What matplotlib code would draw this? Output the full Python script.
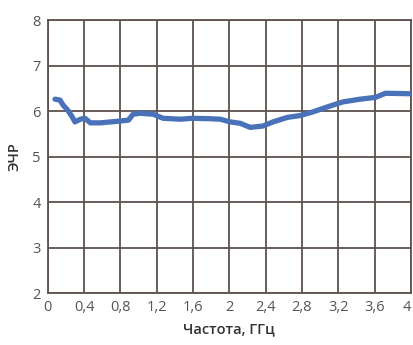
import matplotlib
matplotlib.use("Agg")
import matplotlib.pyplot as plt

# frequency (GHz) and ЭЧР
freq = [0.08, 0.135, 0.17, 0.22, 0.27, 0.3, 0.36, 0.41, 0.47, 0.58, 0.69, 0.8, 0.89,
        0.94, 1.02, 1.16, 1.27, 1.46, 1.6, 1.79, 1.9, 2.01, 2.12, 2.23, 2.37, 2.48,
        2.64, 2.78, 2.92, 3.08, 3.25, 3.44, 3.61, 3.72, 3.99]
ecr = [6.26, 6.24, 6.13, 6.02, 5.87, 5.76, 5.82, 5.84, 5.74, 5.74, 5.76, 5.78, 5.8,
       5.93, 5.95, 5.93, 5.84, 5.82, 5.84, 5.83, 5.82, 5.76, 5.73, 5.64, 5.67, 5.76,
       5.86, 5.9, 5.98, 6.09, 6.2, 6.26, 6.3, 6.39, 6.38]
xticks = [0, 0.4, 0.8, 1.2, 1.6, 2, 2.4, 2.8, 3.2, 3.6, 4]
yticks = [2, 3, 4, 5, 6, 7, 8]

plt.rcParams['font.family'] = ['Open Sans', 'DejaVu Sans']
gridColor = '#5e524e'

fig = plt.figure(figsize=(4.13, 3.45), dpi=100)
ax = fig.add_axes([0.1155, 0.1507, 0.8795, 0.7913])

ax.plot(freq, ecr, color='#4a72b8', lw=3.8, solid_capstyle='round', solid_joinstyle='round', zorder=3)

ax.set_xlim(0, 4)
ax.set_ylim(2, 8)
ax.set_xticks(xticks)
ax.set_xticklabels([str(t).replace('.', ',') for t in xticks])
ax.get_xticklabels()[-1].set_ha('right')  # keep the "4" inside the picture
ax.set_yticks(yticks)
ax.grid(True, color=gridColor, lw=1.3)
ax.tick_params(length=0, labelsize=10.5, labelcolor='#555555', pad=5)
for s in ax.spines.values():
    s.set_color(gridColor)
    s.set_linewidth(1.3)

ax.set_xlabel('Частота, ГГц', fontsize=10.5, fontweight='semibold', color='#333333', labelpad=5)
ax.set_ylabel('ЭЧР', fontsize=10.5, fontweight='semibold', color='#333333', labelpad=8)

fig.savefig('out.png', dpi=100)
